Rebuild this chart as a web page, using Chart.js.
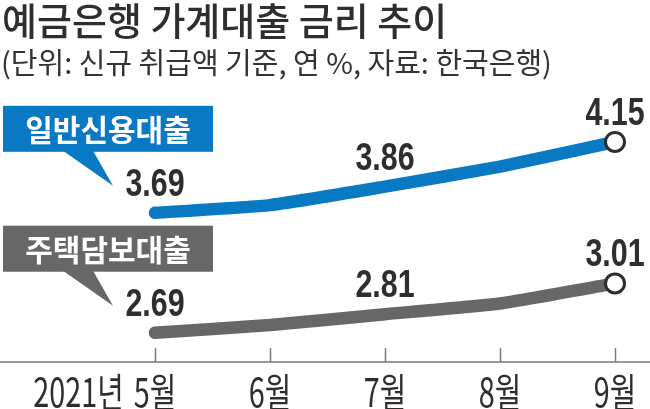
<!DOCTYPE html>
<html>
<head>
<meta charset="utf-8">
<script src="https://cdn.jsdelivr.net/npm/chart.js@4.4.1/dist/chart.umd.min.js"></script>
<style>
  html, body { margin: 0; padding: 0; background: #fff; }
  #wrap { width: 650px; height: 409px; position: relative; }
</style>
</head>
<body>
<div id="wrap"><canvas id="rateChart"></canvas></div>
<script>
// data
const categories = ['5월', '6월', '7월', '8월', '9월'];
const yearLabel = '2021년';
const creditLoan = [3.69, 3.74, 3.86, 3.99, 4.15];   // 일반신용대출
const mortgage = [2.69, 2.74, 2.81, 2.88, 3.01];     // 주택담보대출
const labeledIdx = [0, 2, 4];
const seriesNames = ['일반신용대출', '주택담보대출'];
const titleText = '예금은행 가계대출 금리 추이';
const subtitleText = '(단위: 신규 취급액 기준, 연 %, 자료: 한국은행)';

const BLUE = '#0a79c3';
const GRAY = '#676767';
const INK = '#2e2e2e';
const KR = '"Noto Sans CJK KR", "Noto Sans", sans-serif';

// draw text squeezed horizontally (condensed look)
function squeezeText(ctx, text, x, y, font, color, align, sx, baseline) {
  ctx.save();
  ctx.font = font;
  ctx.fillStyle = color;
  ctx.textBaseline = baseline || 'middle';
  ctx.textAlign = 'left';
  const w = ctx.measureText(text).width * sx;
  let left = x;
  if (align === 'center') left = x - w / 2;
  if (align === 'right') left = x - w;
  ctx.translate(left, y);
  ctx.scale(sx, 1);
  ctx.fillText(text, 0, 0);
  ctx.restore();
  return w;
}

// speech box anchored to the first point of a line
function callout(ctx, pt, text, color) {
  const x0 = 3, x1 = pt.x + 58;
  const y0 = pt.y - 107, y1 = pt.y - 61;
  ctx.save();
  ctx.fillStyle = color;
  ctx.fillRect(x0, y0, x1 - x0, y1 - y0);
  ctx.beginPath();
  ctx.moveTo(63, y1 - 1);
  ctx.lineTo(93, y1 - 1);
  ctx.lineTo(pt.x - 42, pt.y - 27);
  ctx.closePath();
  ctx.fill();
  ctx.font = 'bold 30px ' + KR;
  ctx.fillStyle = '#fff';
  ctx.textAlign = 'center';
  ctx.textBaseline = 'middle';
  ctx.fillText(text, (x0 + x1) / 2, (y0 + y1) / 2 + 1);
  ctx.restore();
}

const decorPlugin = {
  id: 'decor',
  beforeDatasetsDraw(chart) {
    const ctx = chart.ctx;
    const area = chart.chartArea;
    const xs = chart.scales.x;
    // title + subtitle
    ctx.save();
    ctx.fillStyle = INK;
    ctx.textAlign = 'left';
    ctx.textBaseline = 'middle';
    ctx.font = '500 38px ' + KR;
    ctx.fillText(titleText, 2, 21);
    ctx.font = '400 29px ' + KR;
    ctx.fillStyle = '#333';
    ctx.fillText(subtitleText, 1, 63);
    ctx.restore();

    // baseline and inward ticks
    ctx.save();
    ctx.strokeStyle = '#7a7a7a';
    ctx.lineWidth = 1.5;
    ctx.beginPath();
    ctx.moveTo(0, area.bottom);
    ctx.lineTo(chart.width, area.bottom);
    ctx.stroke();
    categories.forEach((c, i) => {
      const px = Math.round(xs.getPixelForValue(i)) + 0.5;
      ctx.beginPath();
      ctx.moveTo(px, area.bottom - 14);
      ctx.lineTo(px, area.bottom);
      ctx.stroke();
    });
    ctx.restore();

    // x labels
    const xFont = '400 40px ' + KR;
    categories.forEach((c, i) => {
      const px = xs.getPixelForValue(i);
      const w = squeezeText(ctx, c, px, 392, xFont, INK, 'center', 0.72);
      if (i === 0) {
        squeezeText(ctx, yearLabel, px - w / 2 - 10, 392, xFont, INK, 'right', 0.72);
      }
    });

    // callouts
    chart.data.datasets.forEach((ds, di) => {
      const meta = chart.getDatasetMeta(di);
      callout(ctx, meta.data[0], seriesNames[di], ds.borderColor);
    });
  },
  afterDatasetsDraw(chart) {
    const ctx = chart.ctx;
    chart.data.datasets.forEach((ds, di) => {
      const meta = chart.getDatasetMeta(di);
      labeledIdx.forEach(i => {
        const pt = meta.data[i];
        squeezeText(ctx, ds.data[i].toFixed(2), pt.x, pt.y - 17,
          'bold 39px "Liberation Sans", Arial, sans-serif', INK, 'center', 0.78, 'alphabetic');
      });
    });
  }
};

const lastOnly = (r) => categories.map((c, i) => i === categories.length - 1 ? r : 0);

new Chart(document.getElementById('rateChart'), {
  type: 'line',
  data: {
    labels: categories,
    datasets: [
      {
        label: seriesNames[0],
        data: creditLoan,
        yAxisID: 'yBlue',
        borderColor: BLUE,
        borderWidth: 12.5,
        borderCapStyle: 'round',
        borderJoinStyle: 'round',
        tension: 0.15,
        pointRadius: lastOnly(9.5),
        pointHoverRadius: lastOnly(9.5),
        pointBackgroundColor: '#fff',
        pointBorderColor: INK,
        pointBorderWidth: 3,
        clip: false
      },
      {
        label: seriesNames[1],
        data: mortgage,
        yAxisID: 'yGray',
        borderColor: GRAY,
        borderWidth: 12.5,
        borderCapStyle: 'round',
        borderJoinStyle: 'round',
        tension: 0.15,
        pointRadius: lastOnly(9.5),
        pointHoverRadius: lastOnly(9.5),
        pointBackgroundColor: '#fff',
        pointBorderColor: INK,
        pointBorderWidth: 3,
        clip: false
      }
    ]
  },
  options: {
    responsive: true,
    maintainAspectRatio: false,
    animation: false,
    layout: {
      padding: { top: 100, bottom: 47, left: 155, right: 35 }
    },
    plugins: {
      legend: { display: false },
      tooltip: { enabled: false },
      title: { display: false }
    },
    scales: {
      x: {
        display: false,
        offset: false
      },
      // same px per unit on both, the blue one is shifted up (axis break)
      yGray: {
        display: false,
        min: 2.50,
        max: 4.20
      },
      yBlue: {
        display: false,
        min: 2.722,
        max: 4.422
      }
    }
  },
  plugins: [decorPlugin]
});
</script>
</body>
</html>
